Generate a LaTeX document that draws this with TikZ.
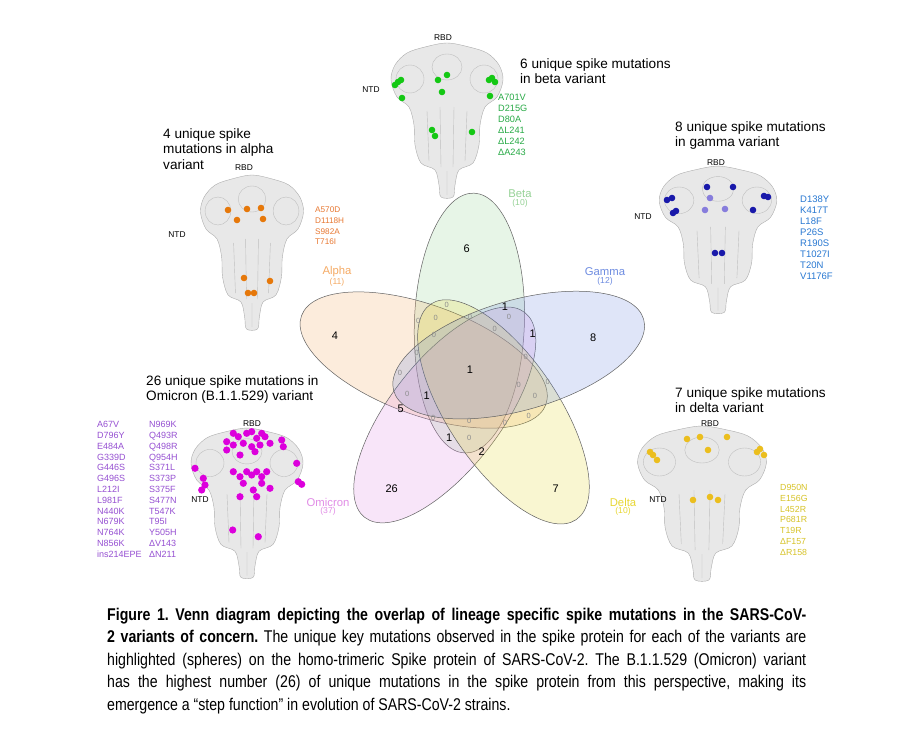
\documentclass[tikz,border=0pt]{standalone}
\usepackage{fontspec}
\setmainfont{Liberation Sans}
\newfontfamily\narrowfont[FakeStretch=0.832]{Liberation Sans}
\usetikzlibrary{positioning}
\frenchspacing
\definecolor{alphaset}{RGB}{245,170,100}
\definecolor{betaset}{RGB}{150,210,150}
\definecolor{gammaset}{RGB}{110,140,225}
\definecolor{deltaset}{RGB}{232,215,50}
\definecolor{omicronset}{RGB}{225,140,230}
\definecolor{alphatext}{RGB}{232,120,50}
\definecolor{betatext}{RGB}{40,170,70}
\definecolor{gammatext}{RGB}{40,120,210}
\definecolor{deltatext}{RGB}{215,195,40}
\definecolor{omicrontext}{RGB}{150,80,210}
\definecolor{alphasph}{RGB}{230,120,10}
\definecolor{betasph}{RGB}{20,200,20}
\definecolor{gammasph}{RGB}{25,25,170}
\definecolor{gammasphlight}{RGB}{135,125,220}
\definecolor{deltasph}{RGB}{235,190,30}
\definecolor{omicronsph}{RGB}{220,0,220}
\tikzset
{
    setoval/.style     = {draw=black!62, line width=0.5pt, fill=#1, fill opacity=0.22},
    setname/.style     = {font=\fontsize{11.3}{11.3}\selectfont, text=#1, inner sep=0pt},
    setsize/.style     = {font=\fontsize{8.6}{8.6}\selectfont, text=#1, inner sep=0pt},
    regioncount/.style = {font=\fontsize{11}{11}\selectfont, inner sep=0pt},
    emptycount/.style  = {font=\fontsize{7.5}{7.5}\selectfont, text=black!45, inner sep=0pt},
    titletext/.style   = {font=\fontsize{13.6}{15.8}\selectfont, align=left, anchor=base west, inner sep=0pt},
    mutlist/.style     = {font=\fontsize{9.2}{10.9}\selectfont, text=#1, align=left, anchor=base west, inner sep=0pt},
    domainlabel/.style = {font=\fontsize{8.4}{8.4}\selectfont, inner sep=0pt},
    capline/.style     = {font=\narrowfont\fontsize{17}{22.5}\selectfont, anchor=base west, inner sep=0pt},
    spikeprotein/.pic  = {
        \draw[fill=black!9, draw=black!32, line width=0.4pt] plot[smooth cycle, tension=0.55] coordinates
            {(0,-2) (22,2) (40,8) (52,20) (56,35) (50,52) (38,62) (33,80) (32,100) (26,118) (12,125) (8,140) (6,152)
             (-6,152) (-8,140) (-12,125) (-26,118) (-32,100) (-33,80) (-38,62) (-50,52) (-56,35) (-52,20) (-40,8) (-22,2)};
        \draw[black!25, line width=0.4pt] (-37,34) circle (14) (37,34) circle (14) (0,22) ellipse (15 and 13);
        \draw[black!25, line width=0.4pt] (-20,66) -- (-18,116) (-7,62) -- (-6,122) (7,62) -- (6,122) (20,66) -- (18,116) (0,126) -- (0,150);
    }
}
\begin{document}
\begin{tikzpicture}[x=1pt, y=-1pt]
    \path[fill=white, use as bounding box] (0,0) rectangle (911,736);

    % spike proteins
    \pic at (447,45) {spikeprotein};
    \pic[xscale=0.92] at (252,177) {spikeprotein};
    \pic[xscale=1.05, yscale=0.95] at (718,168) {spikeprotein};
    \pic[yscale=0.97] at (247,430) {spikeprotein};
    \pic[xscale=1.15] at (702,428) {spikeprotein};

    \foreach \x/\y in {228/210, 247/209, 261/208, 237/220, 263/219, 244/278, 270/281, 248/293, 254/293}
        \fill[alphasph] (\x,\y) circle (3.3);
    \foreach \x/\y in {395/85, 398/82, 401/80, 402/98, 438/80, 447/75, 442/92, 489/80, 492/78, 495/82, 490/96, 432/130, 435/136, 472/132}
        \fill[betasph] (\x,\y) circle (3.3);
    \foreach \x/\y in {710/198, 705/210, 725/209}
        \fill[gammasphlight] (\x,\y) circle (3.3);
    \foreach \x/\y in {667/200, 672/198, 673/213, 676/211, 707/187, 733/187, 768/197, 764/196, 753/210, 715/253, 722/253}
        \fill[gammasph] (\x,\y) circle (3.3);
    \foreach \x/\y in {650/452, 653/455, 657/460, 687/439, 700/437, 727/437, 708/450, 757/452, 760/449, 764/455, 693/500, 710/497, 718/500}
        \fill[deltasph] (\x,\y) circle (3.3);
    \foreach \x/\y in {233.3/433.3, 238.3/436.7, 246.7/433.3, 251.7/431.7, 261.7/433.3, 265/436.7, 256.7/438.3, 226.7/441.7,
                       233.3/445, 243.3/443.3, 251.7/446.7, 260/445, 270/443.3, 281.7/440, 283.3/446.7, 226.7/450, 240/455,
                       255/451.7, 195/468.3, 203.3/478.3, 205/485, 201.7/490, 233.3/471.7, 240/476.7, 246.7/471.7, 251.7/475,
                       256.7/471.7, 261.7/476.7, 266.7/471.7, 243.3/483.3, 253.3/490, 261.7/483.3, 270/488.3, 240/496.7,
                       256.7/496.7, 296.7/463.3, 298.3/481.7, 301.7/484.3, 232.7/530, 258.3/536.7}
        \fill[omicronsph] (\x,\y) circle (3.6);

    \node[domainlabel] (betarbd) at (443,38) {RBD};
    \node[domainlabel] (betantd) at (371,90) {NTD};
    \node[domainlabel] (alpharbd) at (244,168) {RBD};
    \node[domainlabel] (alphantd) at (177,235) {NTD};
    \node[domainlabel] (gammarbd) at (716,163) {RBD};
    \node[domainlabel] (gammantd) at (643,217) {NTD};
    \node[domainlabel] (omicronrbd) at (252,424) {RBD};
    \node[domainlabel] (omicronntd) at (200,500) {NTD};
    \node[domainlabel] (deltarbd) at (710,424) {RBD};
    \node[domainlabel] (deltantd) at (658,500) {NTD};

    % titles and mutation lists (base = last line)
    \node[titletext] (betatitle) at (520,83.8) {6 unique spike mutations\\in beta variant};
    \node[titletext, font=\fontsize{13.6}{15.5}\selectfont] (alphatitle) at (163,169) {4 unique spike\\mutations in alpha\\variant};
    \node[titletext] (gammatitle) at (675,146.8) {8 unique spike mutations\\in gamma variant};
    \node[titletext] (omicrontitle) at (146,400.8) {26 unique spike mutations in\\Omicron (B.1.1.529) variant};
    \node[titletext] (deltatitle) at (675,412.8) {7 unique spike mutations\\in delta variant};

    \node[mutlist=betatext, font=\fontsize{9.2}{11}\selectfont] (betamut) at (498,155.3) {A701V\\D215G\\D80A\\ΔL241\\ΔL242\\ΔA243};
    \node[mutlist=alphatext, font=\fontsize{8.2}{10.7}\selectfont] (alphamut) at (315,244.8) {A570D\\D1118H\\S982A\\T716I};
    \node[mutlist=gammatext, font=\fontsize{9.5}{11}\selectfont] (gammamut) at (800,279.4) {D138Y\\K417T\\L18F\\P26S\\R190S\\T1027I\\T20N\\V1176F};
    \node[mutlist=deltatext, font=\fontsize{8.8}{10.8}\selectfont] (deltamut) at (780,555.2) {D950N\\E156G\\L452R\\P681R\\T19R\\ΔF157\\ΔR158};
    \node[mutlist=omicrontext, font=\fontsize{9}{10.8}\selectfont] (omicronmuta) at (97,557.2) {A67V\\D796Y\\E484A\\G339D\\G446S\\G496S\\L212I\\L981F\\N440K\\N679K\\N764K\\N856K\\ins214EPE};
    \node[mutlist=omicrontext, font=\fontsize{9}{10.8}\selectfont] (omicronmutb) at (149,557.2) {N969K\\Q493R\\Q498R\\Q954H\\S371L\\S373P\\S375F\\S477N\\T547K\\T95I\\Y505H\\ΔV143\\ΔN211};

    % venn diagram
    \foreach \ang/\col in {93/betaset, 165/alphaset, 237/omicronset, 309/deltaset, 21/gammaset}
        \path[setoval=\col, shift={({472+50*cos(\ang)},{373-50*sin(\ang)})}, rotate=\ang-5] (0,0) ellipse [x radius=130, y radius=55];

    \node[setname=betaset] (betalab) at (520,194) {Beta};
    \node[setsize=betaset, below=1pt of betalab] (betanum) {(10)};
    \node[setname=alphaset] (alphalab) at (337,272) {Alpha};
    \node[setsize=alphaset, below=1pt of alphalab] (alphanum) {(11)};
    \node[setname=gammaset] (gammalab) at (605,272) {Gamma};
    \node[setsize=gammaset, below=1pt of gammalab] (gammanum) {(12)};
    \node[setname=omicronset] (omicronlab) at (328,502) {Omicron};
    \node[setsize=omicronset, below=1pt of omicronlab] (omicronnum) {(37)};
    \node[setname=deltaset] (deltalab) at (623,502) {Delta};
    \node[setsize=deltaset, below=1pt of deltalab] (deltanum) {(10)};

    \foreach \x/\y/\v [count=\i] in {466.7/248.3/6, 335/336/4, 593.3/337.7/8, 391.7/488.3/26, 555.7/489/7, 470/370/1,
                                     505/306.7/1, 532.7/334/1, 426.7/396/1, 400.7/408.3/5, 449.3/437.3/1, 481.7/451.7/2}
        \node[regioncount] (r\i) at (\x,\y) {\v};
    \foreach \x/\y [count=\i] in {446.7/305, 418.3/320.7, 435.7/317.7, 470/316.7, 509/317.3, 494.7/329, 434/335, 416.7/353.3,
                                  525.7/356.7, 400/372.7, 547.7/382.3, 518.7/384.7, 407.3/394.3, 535/395.7, 433.3/417.7,
                                  469.3/421, 505/422.7, 528.7/415.7, 469.3/438.3}
        \node[emptycount] (e\i) at (\x,\y) {0};

    % caption
    \node[capline] (cap1) at (107,620) {\makebox[699pt][s]{\bfseries Figure 1. Venn diagram depicting the overlap of lineage specific spike mutations in the SARS-CoV-}};
    \node[capline] (cap2) at (107,642.5) {\makebox[699pt][s]{\textbf{2 variants of concern.} The unique key mutations observed in the spike protein for each of the variants are}};
    \node[capline] (cap3) at (107,665) {\makebox[699pt][s]{highlighted (spheres) on the homo-trimeric Spike protein of SARS-CoV-2. The B.1.1.529 (Omicron) variant}};
    \node[capline] (cap4) at (107,687.5) {\makebox[699pt][s]{has the highest number (26) of unique mutations in the spike protein from this perspective, making its}};
    \node[capline] (cap5) at (107,710) {emergence a “step function” in evolution of SARS-CoV-2 strains.};
\end{tikzpicture}
\end{document}
